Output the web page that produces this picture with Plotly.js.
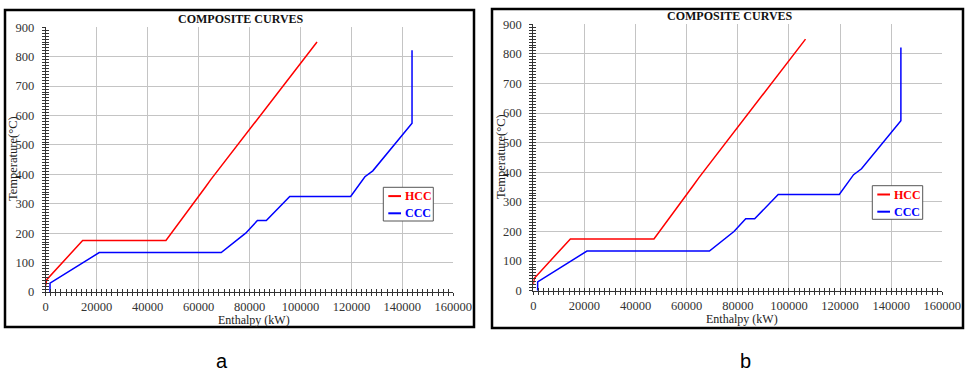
<!DOCTYPE html>
<html>
<head>
<meta charset="utf-8">
<script src="https://cdn.plot.ly/plotly-3.0.1.min.js"></script>
<style>html,body{margin:0;padding:0;background:#fff;}#chart{width:966px;height:374px;}</style>
</head>
<body>
<div id="chart"></div>
<script>
// Hot composite curve (HCC)
const hccEnthalpy = [0, 400, 14500, 47200, 62800, 64800, 106500];
const hccTemp     = [22, 42, 175, 175, 358, 382, 850];
// Cold composite curve (CCC)
const cccEnthalpy = [1700, 1700, 21000, 68900, 78500, 83100, 86600, 95800, 119700, 125300, 128400, 143800, 143800];
const cccTemp     = [0, 30, 134, 134, 200, 243, 243, 325, 325, 392, 412, 574, 822];
const seriesNames = ['HCC', 'CCC'];
const seriesColors = ['#ff0000', '#0000ff'];
const xTickVals = [0, 20000, 40000, 60000, 80000, 100000, 120000, 140000, 160000];
const yTickVals = [0, 100, 200, 300, 400, 500, 600, 700, 800, 900];
const chartTitle = 'COMPOSITE CURVES';
const xTitle = 'Enthalpy (kW)';
const yTitle = 'Temperature(°C)';
const panelLabels = ['a', 'b'];

const W = 966, H = 374;
const serif = "Liberation Serif";
const panels = [
  {px: [45.7, 453.3], py: [27.3, 292], border: [5, 10, 474, 327], legend: [383.3, 187.3, 433.3, 221], title: [241, 19], xt: [254, 319.5], yt: [13, 159], lab: [222, 361]},
  {px: [533.3, 942.3], py: [24.3, 290.7], border: [492, 9, 963, 328], legend: [872.3, 185.7, 922.7, 219.3], title: [730, 16], xt: [742, 318.5], yt: [501, 157], lab: [745, 361]}
];

const traces = [];
const layout = {
  width: W, height: H,
  margin: {l: 0, r: 0, t: 0, b: 0},
  paper_bgcolor: '#fff', plot_bgcolor: '#fff',
  font: {family: serif, size: 12, color: '#333'},
  showlegend: false,
  shapes: [], annotations: []
};
const px2x = v => v / W;
const px2y = v => (H - v) / H;

panels.forEach((p, i) => {
  const n = i + 1;
  const xs = n === 1 ? '' : String(n);
  const xid = 'x' + xs, yid = 'y' + xs;
  const oxn = n + 2; // overlay axes for inward ticks
  const dom = {x: [px2x(p.px[0]), px2x(p.px[1])], y: [px2y(p.py[1]), px2y(p.py[0])]};

  traces.push({
    x: hccEnthalpy, y: hccTemp, type: 'scatter', mode: 'lines', name: seriesNames[0],
    line: {color: seriesColors[0], width: 1.5}, xaxis: xid, yaxis: yid
  });
  traces.push({
    x: cccEnthalpy, y: cccTemp, type: 'scatter', mode: 'lines', name: seriesNames[1],
    line: {color: seriesColors[1], width: 1.5}, xaxis: xid, yaxis: yid
  });
  traces.push({
    x: [null], y: [null], type: 'scatter', mode: 'lines', showlegend: false, hoverinfo: 'skip',
    xaxis: 'x' + oxn, yaxis: 'y' + oxn
  });

  const common = {
    showgrid: true, gridcolor: '#c4c4c4', gridwidth: 1,
    zeroline: false, showline: true, linecolor: '#333', linewidth: 1,
    ticks: 'outside', ticklen: 3, tickcolor: '#333', tickwidth: 1,
    tickfont: {family: serif, size: 12.5, color: '#333'},
    fixedrange: true
  };
  layout['xaxis' + xs] = Object.assign({}, common, {
    domain: dom.x, anchor: yid, range: [0, 160000],
    tickmode: 'array', tickvals: xTickVals, ticktext: xTickVals.map(v => String(v)),
    minor: {ticks: 'outside', ticklen: 3, dtick: 2000, tick0: 0, tickcolor: '#333', showgrid: false},
    ticklabelstandoff: 0
  });
  layout['yaxis' + xs] = Object.assign({}, common, {
    domain: dom.y, anchor: xid, range: [0, 900],
    tickmode: 'array', tickvals: yTickVals, ticktext: yTickVals.map(v => String(v)),
    minor: {ticks: 'outside', ticklen: 3, dtick: 10, tick0: 0, tickcolor: '#333', showgrid: false},
    ticklabelstandoff: 5
  });
  const inner = {
    showgrid: false, zeroline: false, showline: false, showticklabels: false,
    ticks: 'inside', ticklen: 3, tickcolor: '#333', tickwidth: 1, fixedrange: true
  };
  layout['xaxis' + oxn] = Object.assign({}, inner, {
    overlaying: xid, anchor: 'y' + oxn, domain: dom.x, range: [0, 160000],
    tickmode: 'array', tickvals: xTickVals,
    minor: {ticks: 'inside', ticklen: 3, dtick: 2000, tick0: 0, tickcolor: '#333'}
  });
  layout['yaxis' + oxn] = Object.assign({}, inner, {
    overlaying: yid, anchor: 'x' + oxn, domain: dom.y, range: [0, 900],
    tickmode: 'array', tickvals: yTickVals,
    minor: {ticks: 'inside', ticklen: 3, dtick: 10, tick0: 0, tickcolor: '#333'}
  });

  // panel border
  layout.shapes.push({
    type: 'rect', xref: 'paper', yref: 'paper',
    x0: px2x(p.border[0]), x1: px2x(p.border[2]),
    y0: px2y(p.border[3]), y1: px2y(p.border[1]),
    line: {color: '#000', width: 2.5}, fillcolor: 'rgba(0,0,0,0)', layer: 'above'
  });

  // legend box
  const L = p.legend;
  layout.shapes.push({
    type: 'rect', xref: 'paper', yref: 'paper',
    x0: px2x(L[0]), x1: px2x(L[2]), y0: px2y(L[3]), y1: px2y(L[1]),
    line: {color: '#555', width: 1}, fillcolor: '#fff', layer: 'above'
  });
  const rowY = [L[1] + 8.8, L[1] + 26];
  seriesNames.forEach((nm, k) => {
    layout.shapes.push({
      type: 'line', xref: 'paper', yref: 'paper',
      x0: px2x(L[0] + 5), x1: px2x(L[0] + 17.7), y0: px2y(rowY[k]), y1: px2y(rowY[k]),
      line: {color: seriesColors[k], width: 2}, layer: 'above'
    });
    layout.annotations.push({
      text: '<b>' + nm + '</b>', xref: 'paper', yref: 'paper',
      x: px2x(L[0] + 20), y: px2y(rowY[k]), xanchor: 'left', yanchor: 'middle',
      showarrow: false, font: {family: serif, size: 12, color: seriesColors[k]}
    });
  });

  layout.annotations.push({
    text: '<b>' + chartTitle + '</b>', xref: 'paper', yref: 'paper',
    x: px2x(p.title[0]), y: px2y(p.title[1]), xanchor: 'center', yanchor: 'middle',
    showarrow: false, font: {family: serif, size: 12, color: '#111'}
  });
  layout.annotations.push({
    text: xTitle, xref: 'paper', yref: 'paper',
    x: px2x(p.xt[0]), y: px2y(p.xt[1]), xanchor: 'center', yanchor: 'middle',
    showarrow: false, font: {family: serif, size: 12, color: '#222'}
  });
  layout.annotations.push({
    text: yTitle, xref: 'paper', yref: 'paper', textangle: -90,
    x: px2x(p.yt[0]), y: px2y(p.yt[1]), xanchor: 'center', yanchor: 'middle',
    showarrow: false, font: {family: serif, size: 12.5, color: '#222'}
  });
  layout.annotations.push({
    text: panelLabels[i], xref: 'paper', yref: 'paper',
    x: px2x(p.lab[0]), y: px2y(p.lab[1]), xanchor: 'center', yanchor: 'middle',
    showarrow: false, font: {family: "Liberation Sans", size: 20, color: '#000'}
  });
});

Plotly.newPlot('chart', traces, layout, {displayModeBar: false, staticPlot: true});
</script>
</body>
</html>
